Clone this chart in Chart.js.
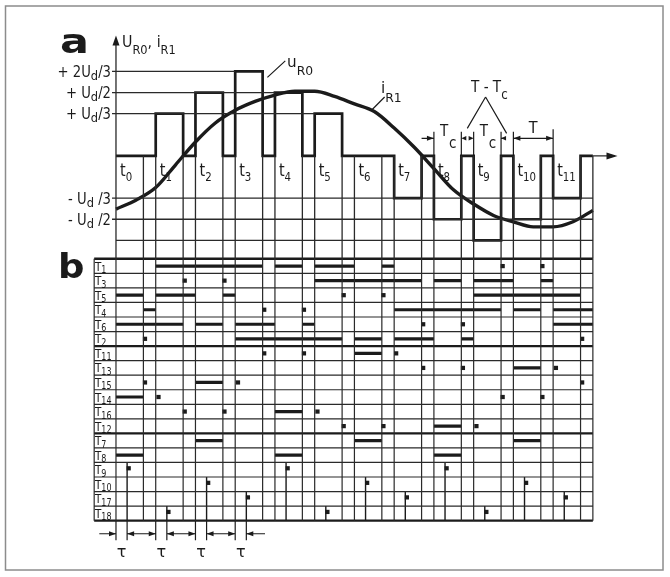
<!DOCTYPE html>
<html>
<head>
<meta charset="utf-8">
<script src="https://cdn.jsdelivr.net/npm/chart.js@4.4.1/dist/chart.umd.min.js"></script>
<style>
  html, body { margin: 0; padding: 0; background: #fff; }
  #wrap { width: 670px; height: 577px; }
</style>
</head>
<body>
<div id="wrap"><canvas id="chart" width="670" height="577"></canvas></div>
<script>
// time in periods T (t0 starts at 0), u_R0 and i_R1 in units of Ud
const periodNames = ['0', '1', '2', '3', '4', '5', '6', '7', '8', '9', '10', '11'];
const uR0Levels = [0, 1/3, 1/2, 2/3, 1/2, 1/3, 0, -1/3, -1/2, -2/3, -1/2, -1/3];
const pulseWidth = 0.69; // Tc / T

const levelTicks = [2/3, 1/2, 1/3, -1/3, -1/2];
const levelTickLabels = ['+ 2U_{d}/3', '+ U_{d}/2', '+ U_{d}/3', '- U_{d} /3', '- U_{d} /2'];
const negativeGrid = [-1/3, -1/2, -2/3];

const iR1Times = [0, 0.5, 1, 1.5, 2, 2.5, 3, 3.5, 4, 4.5, 5, 5.5, 6, 6.5, 7, 7.5, 8, 8.5, 9, 9.5, 10, 10.5, 11, 11.5, 12];
const iR1Values = [-0.42, -0.35, -0.25, -0.07, 0.11, 0.26, 0.36, 0.43, 0.48, 0.51, 0.51, 0.47, 0.41, 0.35, 0.22, 0.07, -0.10, -0.27, -0.38, -0.47, -0.52, -0.56, -0.56, -0.52, -0.43];

// switching table (panel b), one entry per row
const switchNames = ['1', '3', '5', '4', '6', '2', '11', '13', '15', '14', '16', '12', '7', '8', '9', '10', '17', '18'];
const switchBars = [
  [[1, 3.69], [4, 4.69], [5, 6], [6.69, 7]],
  [[5, 7.69], [8, 8.69], [9, 10], [10.69, 11]],
  [[0, 0.69], [1, 2], [2.69, 3], [9, 11.69]],
  [[0.69, 1], [7, 9.69], [10, 10.69], [11, 12]],
  [[0, 1.69], [2, 2.69], [3, 4], [4.69, 5], [11, 12]],
  [[3, 5.69], [6, 6.69], [7, 8], [8.69, 9]],
  [[6, 6.69]],
  [[10, 10.69]],
  [[2, 2.69]],
  [[0, 0.69]],
  [[4, 4.69]],
  [[8, 8.69]],
  [[2, 2.69], [6, 6.69], [10, 10.69]],
  [[0, 0.69], [4, 4.69], [8, 8.69]],
  [], [], [], []
];
const switchDots = [
  [9.73, 10.73],
  [1.73, 2.73],
  [5.73, 6.73],
  [3.73, 4.73],
  [7.73, 8.73],
  [0.73, 11.73],
  [3.73, 4.73, 7.05],
  [7.73, 8.73, 11.07],
  [0.73, 3.07, 11.73],
  [1.07, 9.73, 10.73],
  [1.73, 2.73, 5.07],
  [5.73, 6.73, 9.07],
  [], [], [], [], [], []
];
const switchSpikes = [
  [], [], [], [], [], [], [], [], [], [], [], [], [], [],
  [0.28, 4.28, 8.28],
  [2.28, 6.28, 10.28],
  [3.28, 7.28, 11.28],
  [1.28, 5.28, 9.28]
];
const tcMarks = [8, 9];
const tMark = 10;
const tauDelay = 0.28;
const tauMarks = [0, 1, 2, 3];

// ---- layout (pixels) ----
const W = 670, H = 577;
const X0 = 114, TPX = 40.1;        // t = 0 and one period
const YA0 = 154.5, UDPX = 128;     // zero line of panel a, one Ud
const YB0 = 258.5, ROWPX = 14.7;   // top of panel b, one row
const A_BOTTOM = (YA0 - YB0) / UDPX;
const LABEL_COL = (92 - X0) / TPX;
const INK = '#1b1b1b';
const FONT = '"DejaVu Sans", sans-serif';

function seg(arr, x1, y1, x2, y2) {
  arr.push({x: x1, y: y1}, {x: x2, y: y2}, {x: x2, y: null});
}

const nP = periodNames.length;
const cellEdges = [];
for (let k = 0; k <= nP; k++) {
  cellEdges.push(k);
  if (k < nP) cellEdges.push(k + pulseWidth);
}

// panel a grid
const gridA = [];
negativeGrid.forEach(v => seg(gridA, levelTicks.includes(v) ? -0.1 : 0, v, nP, v));
[1/3, 1/2, 2/3].forEach(v => {
  const last = uR0Levels.lastIndexOf(v);
  seg(gridA, -0.1, v, last, v);
});
cellEdges.forEach(t => seg(gridA, t, 0, t, A_BOTTOM));
seg(gridA, 0, A_BOTTOM, 0, 0.9);
seg(gridA, nP, 0, nP + 0.55, 0);

// panel b grid
const gridB = [], gridBThick = [];
for (let r = 0; r <= switchNames.length; r++) {
  seg(r % 6 === 0 ? gridBThick : gridB, LABEL_COL, r, nP, r);
}
seg(gridB, LABEL_COL, 0, LABEL_COL, switchNames.length);
cellEdges.forEach(t => seg(gridB, t, 0, t, switchNames.length));

// waveform u_R0
const uPts = [];
uR0Levels.forEach((v, k) => {
  uPts.push({x: k, y: 0}, {x: k, y: v}, {x: k + pulseWidth, y: v}, {x: k + pulseWidth, y: 0});
});
uPts.push({x: nP, y: 0});

const iPts = iR1Times.map((t, i) => ({x: t, y: iR1Values[i]}));

// switching marks
const barPts = [], spikePts = [], dotPts = [];
switchNames.forEach((n, r) => {
  switchBars[r].forEach(b => seg(barPts, b[0], r + 0.5, b[1], r + 0.5));
  switchDots[r].forEach(t => dotPts.push({x: t, y: r + 0.5}));
  switchSpikes[r].forEach(t => {
    seg(spikePts, t, r, t, switchNames.length);
    dotPts.push({x: t + 0.04, y: r + 0.4});
  });
});

// tau dimension under panel b
const tauPts = [];
const tauY = 18.9;
tauMarks.forEach(m => {
  seg(tauPts, m, switchNames.length, m, 19.35);
  seg(tauPts, m + tauDelay, switchNames.length, m + tauDelay, 19.35);
});
seg(tauPts, -0.42, tauY, 0, tauY);
tauMarks.forEach((m, i) => {
  const end = i < tauMarks.length - 1 ? tauMarks[i + 1] : m + 0.75;
  seg(tauPts, m + tauDelay, tauY, end, tauY);
});

// annotations of panel a
const dimY = 0.139;
const notePts = [];
tcMarks.forEach(m => {
  seg(notePts, m, 0, m, 0.19);
  seg(notePts, m + pulseWidth, 0, m + pulseWidth, 0.19);
});
seg(notePts, tMark, 0, tMark, 0.19);
seg(notePts, tMark + 1, 0, tMark + 1, 0.21);
seg(notePts, tcMarks[0] - 0.31, dimY, tcMarks[0], dimY);
seg(notePts, tcMarks[1] + pulseWidth, dimY, tcMarks[1] + pulseWidth + 0.1, dimY);
seg(notePts, tMark, dimY, tMark + 1, dimY);
seg(notePts, 8.84, 0.217, 9.30, 0.465);
seg(notePts, 9.30, 0.465, 9.83, 0.178);
seg(notePts, 3.81, 0.62, 4.26, 0.75);
seg(notePts, 6.43, 0.36, 6.76, 0.465);

function lineSet(data, axis, width, extra) {
  return Object.assign({
    data, yAxisID: axis, showLine: true, borderColor: INK, backgroundColor: INK,
    borderWidth: width, pointRadius: 0, pointHoverRadius: 0, fill: false,
    tension: 0, spanGaps: false, clip: false
  }, extra || {});
}

function parseRich(str) {
  const out = [];
  let i = 0;
  while (i < str.length) {
    const j = str.indexOf('_{', i);
    if (j < 0) { out.push([str.slice(i), false]); break; }
    if (j > i) out.push([str.slice(i, j), false]);
    const k = str.indexOf('}', j);
    out.push([str.slice(j + 2, k), true]);
    i = k + 1;
  }
  return out;
}

function richText(ctx, str, x, y, o) {
  const parts = parseRich(str);
  const sx = o.sx || 1;
  const fontFor = s => (o.bold ? 'bold ' : '') + s + 'px ' + FONT;
  const widths = parts.map(p => {
    ctx.font = fontFor(p[1] ? o.sub : o.size);
    return ctx.measureText(p[0]).width * sx;
  });
  const total = widths.reduce((a, b) => a + b, 0);
  let cx = o.align === 'right' ? x - total : o.align === 'center' ? x - total / 2 : x;
  parts.forEach((p, i) => {
    ctx.font = fontFor(p[1] ? o.sub : o.size);
    ctx.save();
    ctx.translate(cx, y + (p[1] ? o.drop : 0));
    ctx.scale(sx, 1);
    ctx.fillText(p[0], 0, 0);
    ctx.restore();
    cx += widths[i];
  });
}

function arrowHead(ctx, x, y, dir, len, half) {
  ctx.save();
  ctx.translate(x, y);
  ctx.rotate(dir);
  ctx.beginPath();
  ctx.moveTo(0, 0);
  ctx.lineTo(-len, -half);
  ctx.lineTo(-len, half);
  ctx.closePath();
  ctx.fill();
  ctx.restore();
}

const figurePlugin = {
  id: 'figure',
  beforeDraw(chart) {
    const ctx = chart.ctx;
    ctx.save();
    ctx.fillStyle = '#fff';
    ctx.fillRect(0, 0, chart.width, chart.height);
    ctx.strokeStyle = '#8c8c8c';
    ctx.lineWidth = 1.5;
    ctx.strokeRect(5.5, 6, 657.5, 564);
    ctx.restore();
  },
  afterDatasetsDraw(chart) {
    const ctx = chart.ctx;
    const x = chart.scales.x, ya = chart.scales.ya, yb = chart.scales.yb;
    const px = t => x.getPixelForValue(t);
    ctx.save();
    ctx.fillStyle = INK;
    ctx.textBaseline = 'alphabetic';
    ctx.textAlign = 'left';

    // axis arrows
    arrowHead(ctx, px(0), ya.getPixelForValue(0.95), -Math.PI / 2, 10, 3.5);
    arrowHead(ctx, px(nP + 0.62), ya.getPixelForValue(0), 0, 11, 3.5);

    // dimension arrows
    const dy = ya.getPixelForValue(dimY);
    arrowHead(ctx, px(tcMarks[0]), dy, 0, 7, 2.5);
    arrowHead(ctx, px(tcMarks[0] + pulseWidth), dy, Math.PI, 5, 2.2);
    arrowHead(ctx, px(tcMarks[1]), dy, 0, 5, 2.2);
    arrowHead(ctx, px(tcMarks[1] + pulseWidth), dy, Math.PI, 5, 2.2);
    arrowHead(ctx, px(tMark), dy, Math.PI, 7, 2.5);
    arrowHead(ctx, px(tMark + 1), dy, 0, 7, 2.5);
    const ty = yb.getPixelForValue(tauY);
    tauMarks.forEach(m => {
      arrowHead(ctx, px(m), ty, 0, 7, 2.5);
      arrowHead(ctx, px(m + tauDelay), ty, Math.PI, 7, 2.5);
    });

    // panel letters
    richText(ctx, 'a', 60, 53, {size: 33, sub: 33, drop: 0, bold: true, sx: 1.3});
    richText(ctx, 'b', 58, 278, {size: 33, sub: 33, drop: 0, bold: true, sx: 1.12});

    // axis title and level labels
    richText(ctx, 'U_{R0}, i_{R1}', px(0) + 6, 47, {size: 15, sub: 12, drop: 7, sx: 0.95});
    levelTicks.forEach((v, i) => {
      richText(ctx, levelTickLabels[i], px(0) - 5, ya.getPixelForValue(v) + 5.5,
        {size: 15, sub: 13, drop: 3, align: 'right', sx: 0.88});
    });
    periodNames.forEach((n, k) => {
      richText(ctx, 't_{' + n + '}', px(k) + 4, ya.getPixelForValue(0) + 20,
        {size: 17, sub: 12, drop: 5, sx: 0.85});
    });
    richText(ctx, 'u_{R0}', 287, 67, {size: 16, sub: 13, drop: 8, sx: 0.95});
    richText(ctx, 'i_{R1}', 381, 93, {size: 16, sub: 13, drop: 9, sx: 0.95});

    // Tc, T-Tc and T
    tcMarks.forEach(m => {
      richText(ctx, 'T', px(m) + 6, dy - 2, {size: 15, sub: 15, drop: 0, sx: 0.9});
      richText(ctx, 'c', px(m) + 15, dy + 10, {size: 15, sub: 15, drop: 0, sx: 0.9});
    });
    richText(ctx, 'T - T_{c}', 471, 92, {size: 16, sub: 14, drop: 7, sx: 0.85});
    richText(ctx, 'T', px(tMark + 0.5), dy - 5, {size: 16, sub: 16, drop: 0, align: 'center', sx: 0.9});

    // row labels
    switchNames.forEach((n, r) => {
      richText(ctx, 'T_{' + n + '}', 95, yb.getPixelForValue(r + 0.5) + 4.5,
        {size: 13, sub: 10, drop: 2.5, sx: 0.8});
    });

    // tau labels
    tauMarks.forEach(m => {
      richText(ctx, 'τ', px(m + tauDelay / 2), 557, {size: 16, sub: 16, drop: 0, align: 'center'});
    });
    ctx.restore();
  }
};

new Chart(document.getElementById('chart').getContext('2d'), {
  type: 'scatter',
  data: {
    datasets: [
      lineSet(gridA, 'ya', 1.3, {label: 'grid a', borderColor: '#2a2a2a'}),
      lineSet(gridB, 'yb', 1.2, {label: 'grid b', borderColor: '#2a2a2a'}),
      lineSet(gridBThick, 'yb', 2.4, {label: 'grid b frame'}),
      lineSet(notePts, 'ya', 1.2, {label: 'notes'}),
      lineSet(tauPts, 'yb', 1.2, {label: 'tau'}),
      lineSet(spikePts, 'yb', 1.4, {label: 'firing'}),
      lineSet(barPts, 'yb', 3.2, {label: 'conducting'}),
      {
        label: 'pulses', data: dotPts, yAxisID: 'yb', showLine: false,
        pointStyle: 'rect', pointRadius: 3, pointHoverRadius: 3,
        pointBackgroundColor: INK, pointBorderWidth: 0, clip: false
      },
      lineSet(uPts, 'ya', 2.7, {label: 'u_R0', borderJoinStyle: 'miter'}),
      lineSet(iPts, 'ya', 3.4, {label: 'i_R1', cubicInterpolationMode: 'monotone'})
    ]
  },
  options: {
    responsive: false,
    animation: false,
    events: [],
    layout: {padding: 0},
    plugins: {legend: {display: false}, tooltip: {enabled: false}, title: {display: false}},
    scales: {
      x: {type: 'linear', display: false, min: -X0 / TPX, max: (W - X0) / TPX},
      ya: {type: 'linear', display: false, position: 'left', min: (YA0 - H) / UDPX, max: YA0 / UDPX},
      yb: {type: 'linear', display: false, position: 'left', reverse: true, min: -YB0 / ROWPX, max: (H - YB0) / ROWPX}
    }
  },
  plugins: [figurePlugin]
});
</script>
</body>
</html>
